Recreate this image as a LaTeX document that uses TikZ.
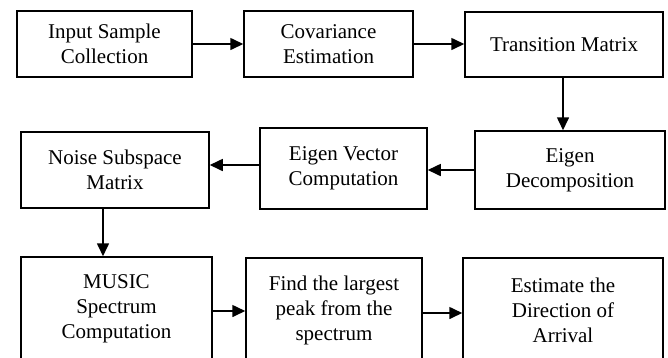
\documentclass[tikz,border=0pt]{standalone}
\usepackage{fontspec}
\setmainfont{Liberation Serif}
\usetikzlibrary{arrows.meta}
\begin{document}
\begin{tikzpicture}[x=1pt,y=-1pt,
  stepbox/.style={draw, line width=1.5pt, align=center, inner sep=0pt,
    font=\fontsize{21}{25}\selectfont},
  arr/.style={line width=1.6pt, -{Triangle[length=13pt,width=12pt]}}]
\useasboundingbox (0,0) rectangle (668,357);
\clip (0,0) rectangle (668,357);
% top row
\node[stepbox, minimum width=175pt, minimum height=66pt] (b1) at (104.5,44) {Input Sample\\Collection};
\node[stepbox, minimum width=169pt, minimum height=66pt] (b2) at (328.5,44) {Covariance\\Estimation};
\node[stepbox, minimum width=198pt, minimum height=65pt] (b3) at (564,44.5) {Transition Matrix};
% middle row
\node[stepbox, minimum width=188pt, minimum height=76pt] (b4) at (115,170) {Noise Subspace\\Matrix};
\node[stepbox, minimum width=167pt, minimum height=81pt] (b5) at (343.5,168.5) {Eigen Vector\\Computation};
\node[stepbox, minimum width=190pt, minimum height=78pt] (b6) at (570,170) {Eigen\\Decomposition};
% bottom row (runs past the lower edge)
\node[stepbox, minimum width=191pt, minimum height=104pt] (b7) at (116.5,309) {MUSIC\\Spectrum\\Computation};
\node[stepbox, minimum width=176pt, minimum height=104pt] (b8) at (334,310) {Find the largest\\peak from the\\spectrum};
\node[stepbox, minimum width=200pt, minimum height=104pt] (b9) at (563,310) {Estimate the\\Direction of\\Arrival};
% connectors
\draw[arr] (b1.east) -- (b1.east -| b2.west);
\draw[arr] (b2.east) -- (b2.east -| b3.west);
\draw[arr] ([xshift=-1pt]b3.south) -- ([xshift=-1pt]b3.south |- b6.north);
\draw[arr] (b6.west) -- (b6.west -| b5.east);
\draw[arr] ([yshift=3.5pt]b5.west) -- ([yshift=3.5pt]b5.west -| b4.east);
\draw[arr] ([xshift=-12pt]b4.south) -- ([xshift=-12pt]b4.south |- b7.north);
\draw[arr] ([yshift=-2pt]b7.east) -- ([yshift=-2pt]b7.east -| b8.west);
\draw[arr] ([yshift=-3pt]b8.east) -- ([yshift=-3pt]b8.east -| b9.west);
\end{tikzpicture}
\end{document}
